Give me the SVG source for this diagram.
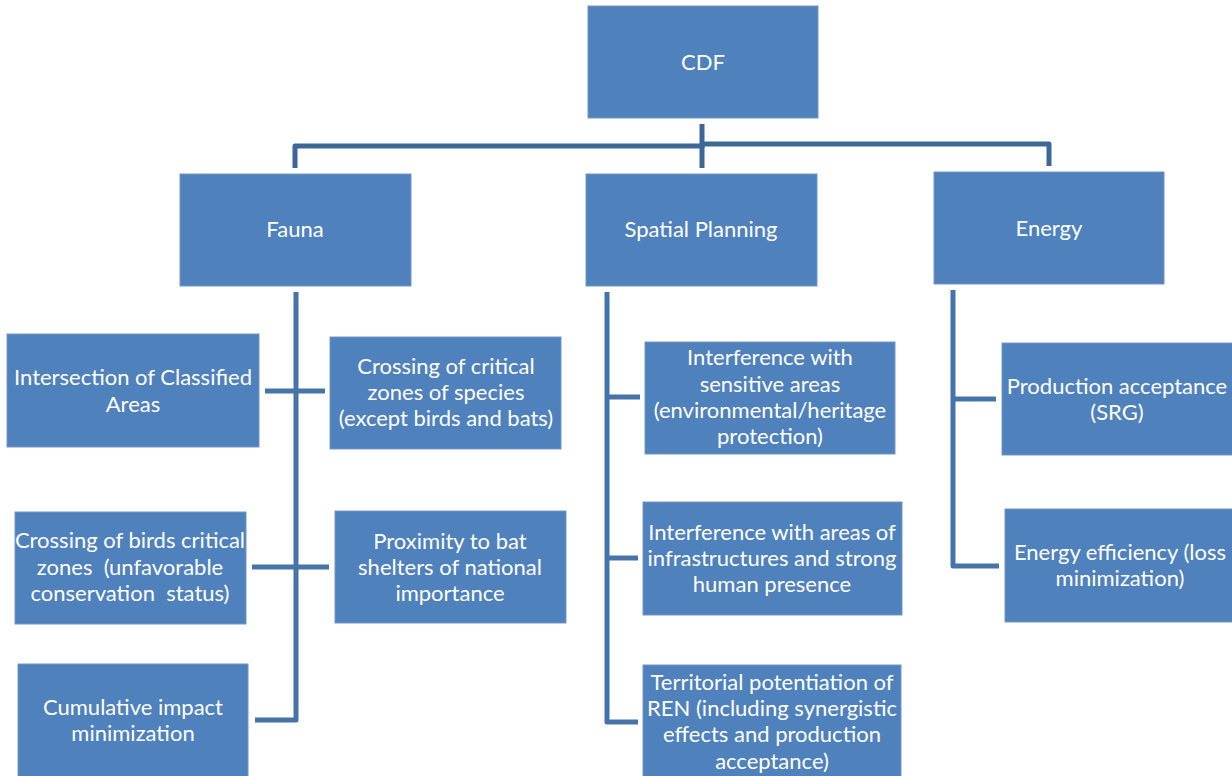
<svg xmlns="http://www.w3.org/2000/svg" width="1232" height="776" viewBox="0 0 1232 776">
<style>
.box{fill:#4f81bd;stroke:#7397c6;stroke-width:1}
.t{font-family:Lato,"Liberation Sans",sans-serif;font-size:22px;fill:#ffffff;text-anchor:middle}
.c{fill:none;stroke:#4673aa;stroke-width:5;stroke-linejoin:round}
.ct{fill:none;stroke:#3d6797;stroke-width:5;stroke-linejoin:round}
</style>
<rect width="1232" height="776" fill="#ffffff"/>
<g id="connectors">
<path class="ct" d="M702,124 V148"/>
<path class="ct" d="M295,168 V146 H702 V168"/>
<path class="ct" d="M702,144 H1049 V166"/>
<path class="c" d="M296,292 V720 H255"/>
<path class="c" d="M265,391 H325"/>
<path class="c" d="M252,567 H329"/>
<path class="c" d="M607,292 V722 H638"/>
<path class="c" d="M607,397 H640"/>
<path class="c" d="M607,558 H638"/>
<path class="c" d="M953,290 V566 H999"/>
<path class="c" d="M953,399 H996"/>
</g>
<g id="cdf"><rect class="box" x="588" y="6" width="230" height="112"/><text class="t" x="703" y="70">CDF</text></g>
<g id="fauna"><rect class="box" x="180" y="174" width="231" height="112"/><text class="t" x="295" y="237">Fauna</text></g>
<g id="spatial"><rect class="box" x="586" y="174" width="231" height="112"/><text class="t" x="701" y="237">Spatial Planning</text></g>
<g id="energy"><rect class="box" x="934" y="172" width="230" height="112"/><text class="t" x="1049" y="236">Energy</text></g>
<g id="intersection"><rect class="box" x="7" y="334" width="252" height="113"/><text class="t" x="133" y="385">Intersection of Classified</text><text class="t" x="133" y="412">Areas</text></g>
<g id="crossing-species"><rect class="box" x="330" y="337" width="231" height="112"/><text class="t" x="446" y="374">Crossing of critical</text><text class="t" x="446" y="400">zones of species</text><text class="t" x="446" y="426">(except birds and bats)</text></g>
<g id="crossing-birds"><rect class="box" x="15" y="512" width="231" height="112"/><text class="t" x="130" y="548">Crossing of birds critical</text><text class="t" x="130" y="575" xml:space="preserve">zones  (unfavorable</text><text class="t" x="130" y="601" xml:space="preserve">conservation  status)</text></g>
<g id="proximity"><rect class="box" x="335" y="511" width="231" height="112"/><text class="t" x="450" y="549">Proximity to bat</text><text class="t" x="450" y="575">shelters of national</text><text class="t" x="450" y="601">importance</text></g>
<g id="cumulative"><rect class="box" x="18" y="664" width="230" height="120"/><text class="t" x="133" y="715">Cumulative impact</text><text class="t" x="133" y="741">minimization</text></g>
<g id="sensitive"><rect class="box" x="645" y="342" width="250" height="112"/><text class="t" x="770" y="365">Interference with</text><text class="t" x="770" y="392">sensitive areas</text><text class="t" x="770" y="418">(environmental/heritage</text><text class="t" x="770" y="444">protection)</text></g>
<g id="infrastructures"><rect class="box" x="643" y="502" width="259" height="113"/><text class="t" x="772" y="540">Interference with areas of</text><text class="t" x="772" y="566">infrastructures and strong</text><text class="t" x="772" y="592">human presence</text></g>
<g id="territorial"><rect class="box" x="643" y="665" width="258" height="120"/><text class="t" x="772" y="690">Territorial potentiation of</text><text class="t" x="772" y="716">REN (including synergistic</text><text class="t" x="772" y="742">effects and production</text><text class="t" x="772" y="769">acceptance)</text></g>
<g id="production"><rect class="box" x="1002" y="343" width="240" height="112"/><text class="t" x="1117" y="394">Production acceptance</text><text class="t" x="1117" y="420">(SRG)</text></g>
<g id="efficiency"><rect class="box" x="1005" y="509" width="237" height="113"/><text class="t" x="1120" y="560">Energy efficiency (loss</text><text class="t" x="1120" y="586">minimization)</text></g>
</svg>
